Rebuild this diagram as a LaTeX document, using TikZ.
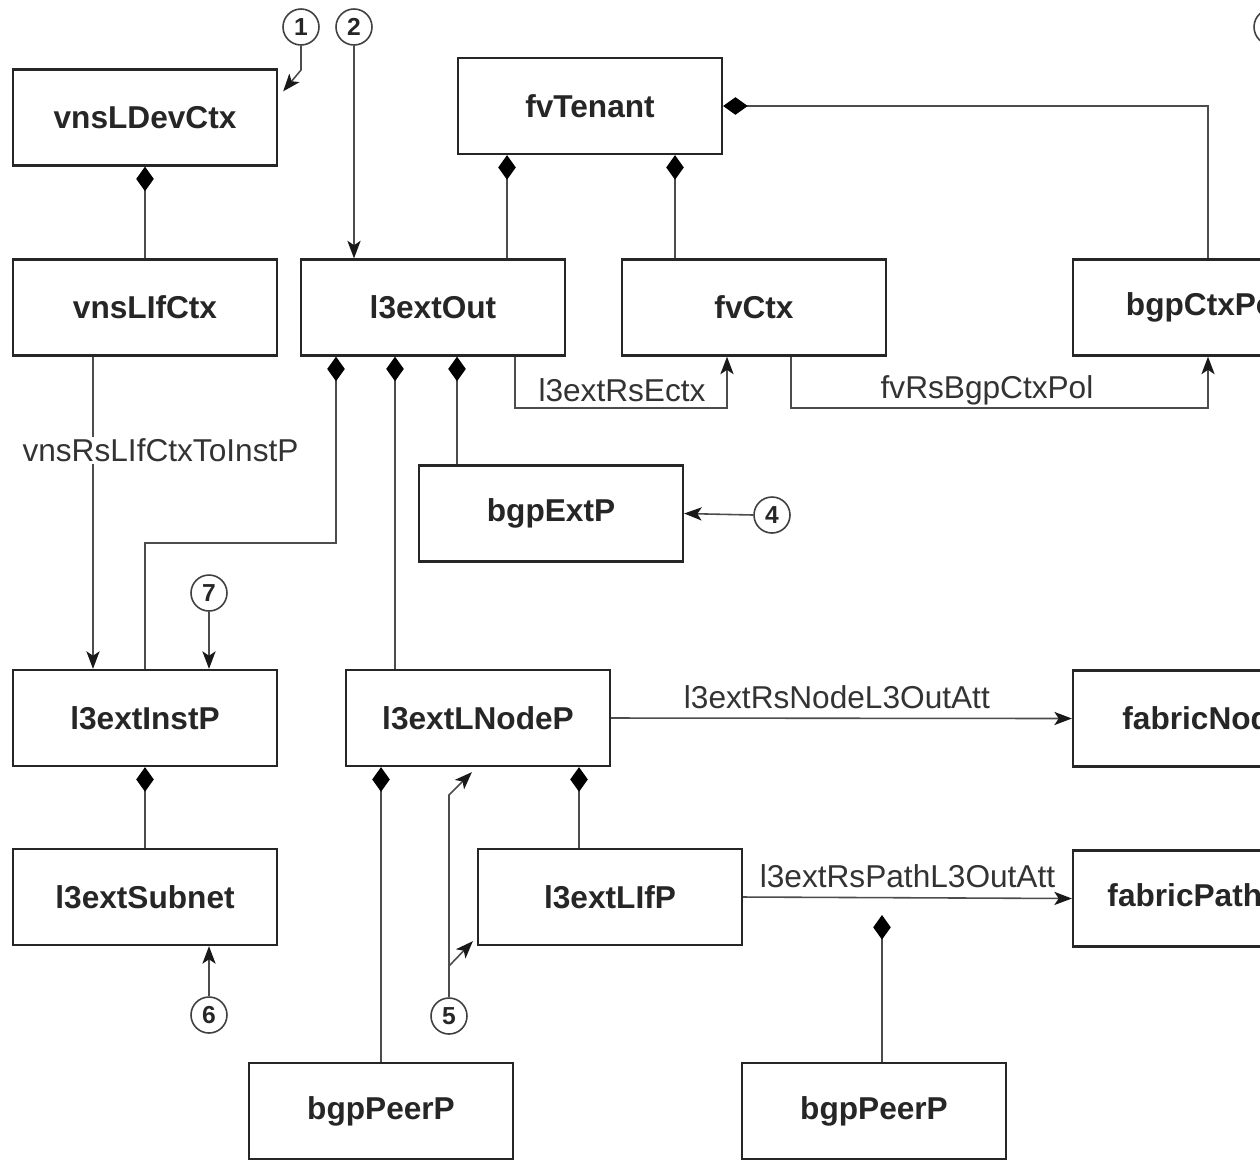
\documentclass[tikz,border=0pt]{standalone}
\usepackage{fontspec}
\setmainfont{Liberation Sans}
\usetikzlibrary{arrows.meta,calc}
\begin{document}
\begin{tikzpicture}[x=0.02cm,y=-0.02cm,
  box/.style={draw=black!85, line width=1.3pt, fill=white, minimum width=5.28cm, minimum height=1.92cm, inner sep=0pt, text=black!85, font=\bfseries\fontsize{18}{20}\selectfont},
  num/.style={draw=black!75, line width=0.9pt, circle, minimum size=0.72cm, inner sep=0pt, text=black!85, font=\bfseries\fontsize{14}{15}\selectfont},
  conn/.style={draw=black!70, line width=0.9pt},
  arr/.style={conn, -{Stealth[length=10pt,width=7.5pt,inset=2.5pt,color=black!90]}},
  comp/.style={conn, {Diamond[length=14pt,width=10pt,color=black]}-},
  lbl/.style={text=black!80, font=\fontsize{18}{20}\selectfont, inner sep=1pt}
]
\useasboundingbox (0,0) rectangle (1260,1161);
\clip (0,0) rectangle (1260,1161);
\fill[white] (0,0) rectangle (1260,1161);

% boxes
\node[box] (ldev)   at (145,117.5) {vnsLDevCtx};
\node[box] (ten)    at (590,106)   {fvTenant};
\node[box] (lifc)   at (145,307.5) {vnsLIfCtx};
\node[box] (out)    at (433,307.5) {l3extOut};
\node[box] (ctx)    at (754,307.5) {fvCtx};
\node[box] (bctx)   at (1205,307.5) {bgpCtxPol};
\node[box] (extp)   at (551,513.5) {bgpExtP};
\node[box] (inst)   at (145,718)   {l3extInstP};
\node[box] (lnode)  at (478,718)   {l3extLNodeP};
\node[box] (fnode)  at (1205,718.5) {fabricNode};
\node[box] (subnet) at (145,897)   {l3extSubnet};
\node[box] (lifp)   at (610,897)   {l3extLIfP};
\node[box] (fpath)  at (1205,898.5) {fabricPathEp};
\node[box] (peera)  at (381,1111)  {bgpPeerP};
\node[box] (peerb)  at (874,1111)  {bgpPeerP};

% numbered callouts
\node[num] (c1) at (301,27) {1};
\node[num] (c2) at (354,27) {2};
\node[num] (c3) at (1272,27) {};
\node[num] (c4) at (772,515) {4};
\node[num] (c7) at (209,593) {7};
\node[num] (c5) at (449,1016) {5};
\node[num] (c6) at (209,1015) {6};

% callout arrows
\coordinate (k1) at (301,70);
\draw[arr] (c1.south) -- (k1) -- ($(ldev.north east)+(5,23)$);
\draw[arr] (c2.south) -- (out.north -| c2.south);
\draw[arr] (c4.west) -- (extp.east);
\draw[arr] (c7.south) -- (inst.north -| c7.south);
\draw[arr] (c6.north) -- (subnet.south -| c6.north);
\coordinate (k5a) at (449,966);
\coordinate (k5b) at (449,795);
\draw[arr] (c5.north) -- (k5a) -- ($(lifp.south west)+(-4,-5)$);
\draw[arr] (k5a) -- (k5b) -- ($(lnode.south west)+(127,5)$);

% composition (diamond) links
\draw[comp] (ldev.south) -- (lifc.north);
\draw[comp] (ten.south -| 507,0) -- (out.north -| 507,0);
\draw[comp] (ten.south -| 675,0) -- (ctx.north -| 675,0);
\coordinate (kt) at (1208,106);
\draw[comp] (ten.east) -- (kt) -- (bctx.north -| kt);
\coordinate (kb) at (336,543);
\coordinate (kc) at (145,543);
\draw[comp] (out.south -| kb) -- (kb) -- (kc) -- (inst.north);
\draw[comp] (out.south -| 395,0) -- (lnode.north -| 395,0);
\draw[comp] (out.south -| 457,0) -- (extp.north -| 457,0);
\draw[comp] (inst.south) -- (subnet.north);
\draw[comp] (lnode.south -| peera.north) -- (peera.north);
\draw[comp] (lnode.south -| 579,0) -- (lifp.north -| 579,0);

% relation links
\draw[arr] (lifc.south -| 93,0) -- node[lbl, fill=white, pos=0.30, anchor=center, xshift=1.35cm] {vnsRsLIfCtxToInstP} (inst.north -| 93,0);
\coordinate (e1) at (515,408);
\coordinate (e2) at (727,408);
\draw[arr] (out.south -| e1) -- (e1) -- (e2) -- (ctx.south -| e2);
\node[lbl] (le) at (622,390) {l3extRsEctx};
\coordinate (f1) at (791,408);
\coordinate (f2) at (1208,408);
\draw[arr] (ctx.south -| f1) -- (f1) -- (f2) -- (bctx.south -| f2);
\node[lbl] (lf) at (987,390) {fvRsBgpCtxPol};
\draw[arr] (lnode.east) -- node[lbl, above=4pt, pos=0.49] {l3extRsNodeL3OutAtt} (fnode.west);
\draw[arr] (lifp.east) -- node[lbl, above=4pt, pos=0.5] {l3extRsPathL3OutAtt} (fpath.west);

% association diamond on path relation
\coordinate (dd) at (882,915);
\draw[comp] (dd) -- (peerb.north -| dd);
\end{tikzpicture}
\end{document}
